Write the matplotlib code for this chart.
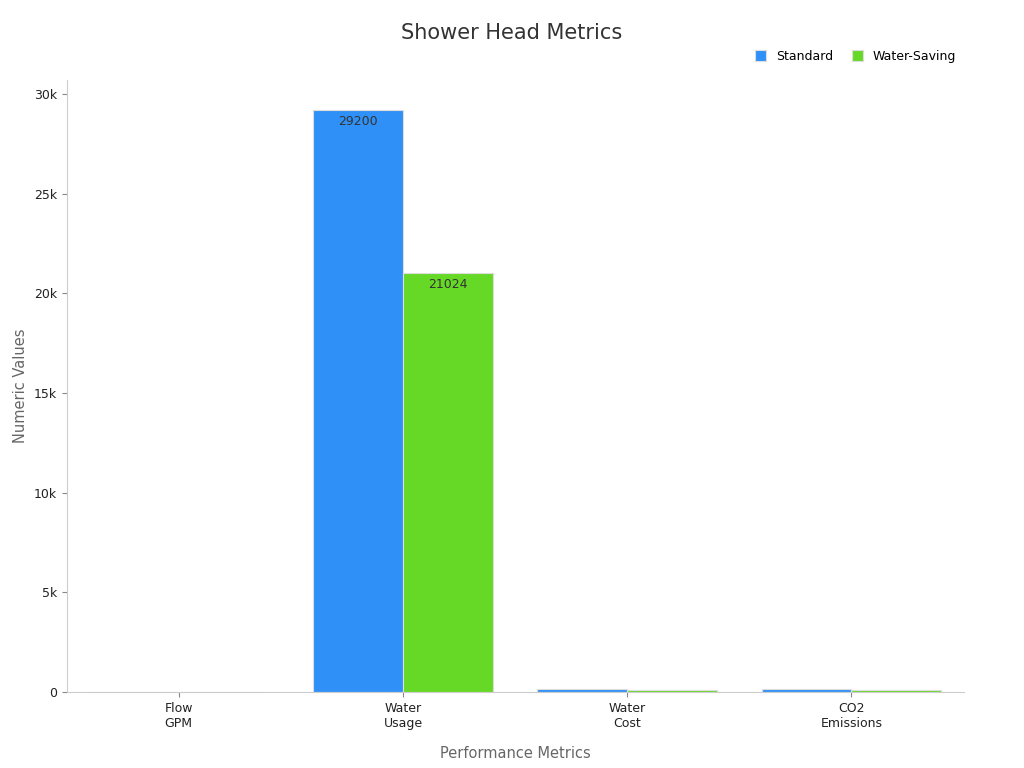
import matplotlib
matplotlib.use("Agg")
import matplotlib.pyplot as plt
import numpy as np
from matplotlib.ticker import FuncFormatter

categories = ["Flow\nGPM", "Water\nUsage", "Water\nCost", "CO2\nEmissions"]
standard = [2.5, 29200, 146, 150]
saving = [1.8, 21024, 105, 108]

fig = plt.figure(figsize=(10.24, 7.68), dpi=100)
ax = fig.add_axes([0.065, 0.099, 0.876, 0.797])
x = np.arange(len(categories))
w = 0.4
b1 = ax.bar(x - w/2, standard, w, color="#2f91f7", edgecolor="#dddddd", linewidth=0.8, label="Standard")
b2 = ax.bar(x + w/2, saving, w, color="#66d926", edgecolor="#dddddd", linewidth=0.8, label="Water-Saving")
for bars in (b1, b2):
    for r in bars:
        h = r.get_height()
        if h > 1000:
            ax.text(r.get_x() + r.get_width()/2, h - 250, f"{h:.0f}", ha="center", va="top", fontsize=9, color="#333333")
ax.set_xlim(-0.5, 3.5)
ax.set_ylim(0, 30700)
ax.set_xticks(x)
ax.set_xticklabels(categories, fontsize=9, color="#222222")
ax.yaxis.set_major_formatter(FuncFormatter(lambda v, p: "0" if v == 0 else f"{v/1000:.0f}k"))
ax.set_yticks(range(0, 30001, 5000))
ax.tick_params(axis="y", labelsize=9, colors="#222222")
ax.tick_params(colors="#888888", labelcolor="#222222")
for s in ["top", "right"]:
    ax.spines[s].set_visible(False)
for s in ["left", "bottom"]:
    ax.spines[s].set_color("#cccccc")
ax.set_xlabel("Performance Metrics", fontsize=10.5, color="#666666", labelpad=12)
ax.set_ylabel("Numeric Values", fontsize=10.5, color="#666666")
fig.text(0.5, 0.957, "Shower Head Metrics", ha="center", va="center", fontsize=15, color="#333333")
fig.legend(loc="upper right", bbox_to_anchor=(0.945, 0.95), ncol=2, frameon=False, fontsize=9,
           handlelength=0.9, handleheight=0.9, columnspacing=1.5)
fig.savefig("out.png")
